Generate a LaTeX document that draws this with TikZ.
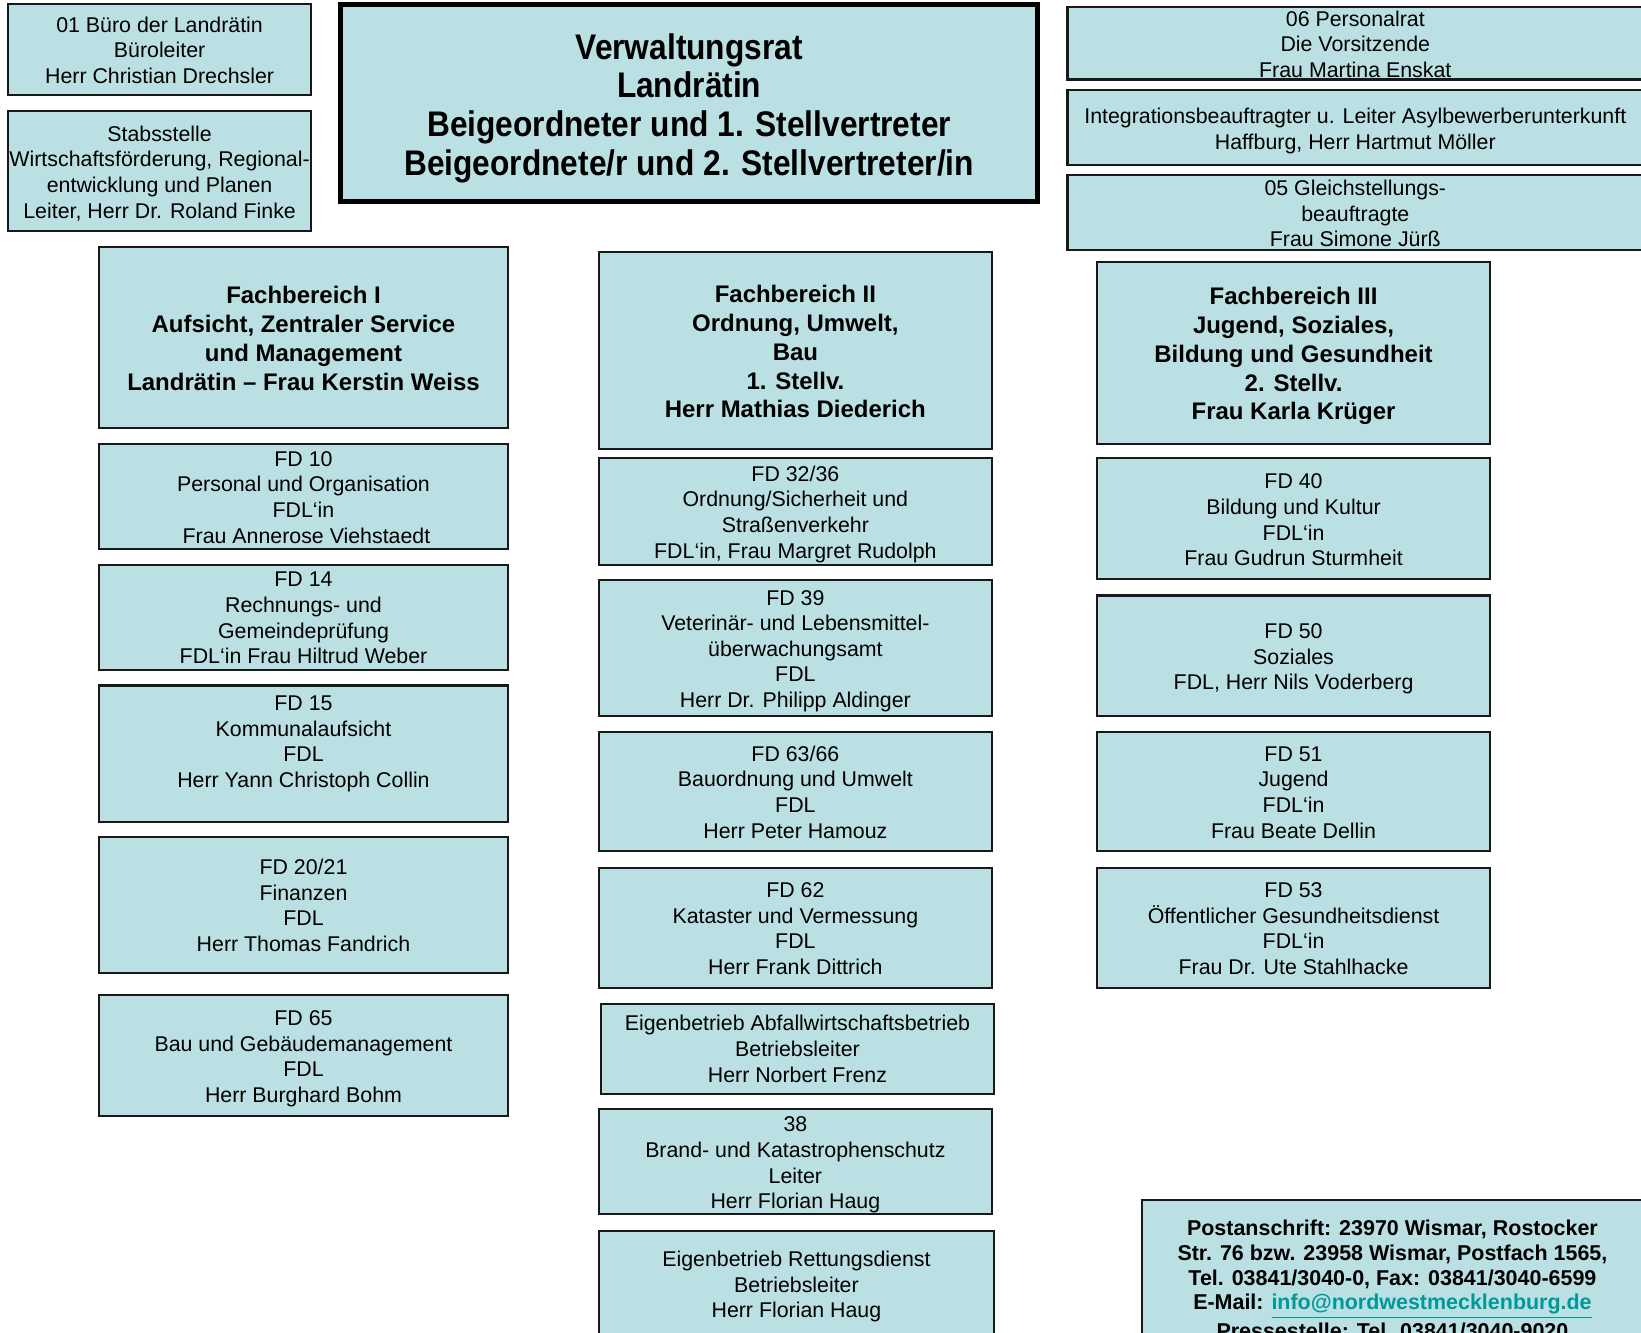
\documentclass[tikz,border=0pt]{standalone}
\usepackage{fontspec}
\setmainfont{Liberation Sans}
\newfontfamily\condsans{Liberation Sans}[FakeStretch=0.89]
\definecolor{boxfill}{RGB}{187,224,227}
\definecolor{mailcol}{RGB}{0,153,153}
\tikzset{
  boxst/.style={rectangle, draw=black!90, line width=1pt, fill=boxfill, inner sep=0pt},
  bigboxst/.style={boxst, draw=black, line width=2.5pt},
  txtst/.style={align=center, inner sep=0pt, font=\fontsize{10.2}{12.25}\selectfont},
  fbst/.style={align=center, inner sep=0pt, font=\fontsize{11.45}{13.75}\selectfont\bfseries},
  bigst/.style={align=center, inner sep=0pt, font=\condsans\fontsize{17}{18.5}\selectfont\bfseries},
  postst/.style={align=center, inner sep=0pt, font=\fontsize{10.25}{11.85}\selectfont\bfseries},
}
% [box style]{name}{x1}{y1}{x2}{y2}{text y}{text style}{text}
\newcommand\orgbox[9][boxst]{%
  \node[#1, minimum width={(#5-#3)*0.5pt}, minimum height={(#6-#4)*0.5pt}] (#2) at ({(#3+#5)/2},{-(#4+#6)/2}) {};
  \node[#8] (#2-t) at ({(#3+#5)/2},{-(#7)}) {\strut#9\strut};
}
\begin{document}
\begin{tikzpicture}[x=0.5pt,y=0.5pt]
\useasboundingbox (0,0) rectangle (1568,-1273);
\clip (0,0) rectangle (1568,-1273);

% top row
\orgbox{b01}{8}{4}{297}{91}{50.4}{txtst}{01 Büro der Landrätin\\Büroleiter\\Herr Christian Drechsler}
\orgbox{stab}{8}{106}{297}{221}{166.9}{txtst}{Stabsstelle\\Wirtschaftsförderung, Regional-\\entwicklung und Planen\\Leiter, Herr Dr. Roland Finke}
\orgbox[bigboxst]{vr}{325.5}{4.5}{991.5}{192.5}{104.6}{bigst}{Verwaltungsrat\\Landrätin\\Beigeordneter und 1. Stellvertreter\\Beigeordnete/r und 2. Stellvertreter/in}
\orgbox{pr}{1020}{7}{1570}{76}{44.7}{txtst}{06 Personalrat\\Die Vorsitzende\\Frau Martina Enskat}
\orgbox{integ}{1020}{86}{1570}{158}{125.4}{txtst}{Integrationsbeauftragter u. Leiter Asylbewerberunterkunft\\Haffburg, Herr Hartmut Möller}
\orgbox{gs}{1020}{167}{1570}{239}{206.4}{txtst}{05 Gleichstellungs-\\beauftragte\\Frau Simone Jürß}

% column I
\orgbox{fb1}{95}{236}{485}{409}{326.2}{fbst}{Fachbereich I\\Aufsicht, Zentraler Service\\und Management\\Landrätin – Frau Kerstin Weiss}
\orgbox{fd10}{95}{424}{485}{525}{477.4}{txtst}{FD 10\\Personal und Organisation\\FDL‘in\\\ Frau Annerose Viehstaedt}
\orgbox{fd14}{95}{540}{485}{640}{592.65}{txtst}{FD 14\\Rechnungs- und\\Gemeindeprüfung\\FDL‘in Frau Hiltrud Weber}
\orgbox{fd15}{95}{655}{485}{785}{710.65}{txtst}{FD 15\\Kommunalaufsicht\\FDL\\Herr Yann Christoph Collin}
\orgbox{fd20}{95}{800}{485}{930}{867.4}{txtst}{FD 20/21\\Finanzen\\FDL\\Herr Thomas Fandrich}
\orgbox{fd65}{95}{951}{485}{1066}{1011.65}{txtst}{FD 65\\Bau und Gebäudemanagement\\FDL\\Herr Burghard Bohm}

% column II
\orgbox{fb2}{572}{241}{948}{429}{338.9}{fbst}{Fachbereich II\\Ordnung, Umwelt,\\Bau\\1. Stellv.\\Herr Mathias Diederich}
\orgbox{fd32}{572}{438}{948}{540}{491.65}{txtst}{FD 32/36\\Ordnung/Sicherheit und\\Straßenverkehr\\FDL‘in, Frau Margret Rudolph}
\orgbox{fd39}{572}{554}{948}{684}{622.2}{txtst}{FD 39\\Veterinär- und Lebensmittel-\\überwachungsamt\\FDL\\Herr Dr. Philipp Aldinger}
\orgbox{fd63}{572}{699}{948}{813}{759.15}{txtst}{FD 63/66\\Bauordnung und Umwelt\\FDL\\Herr Peter Hamouz}
\orgbox{fd62}{572}{829}{948}{944}{889.4}{txtst}{FD 62\\Kataster und Vermessung\\FDL\\Herr Frank Dittrich}
\orgbox{abf}{574}{959}{950}{1045}{1004.7}{txtst}{Eigenbetrieb Abfallwirtschaftsbetrieb\\Betriebsleiter\\Herr Norbert Frenz}
\orgbox{b38}{572}{1060}{948}{1160}{1113.4}{txtst}{38\\Brand- und Katastrophenschutz\\Leiter\\Herr Florian Haug}
\orgbox{rett}{572}{1176}{950}{1290}{1229.7}{txtst}{Eigenbetrieb Rettungsdienst\\Betriebsleiter\\Herr Florian Haug}

% column III
\orgbox{fb3}{1048}{250}{1424}{424}{340.7}{fbst}{Fachbereich III\\Jugend, Soziales,\\Bildung und Gesundheit\\2. Stellv.\\Frau Karla Krüger}
\orgbox{fd40}{1048}{438}{1424}{553}{498.9}{txtst}{FD 40\\Bildung und Kultur\\FDL‘in\\Frau Gudrun Sturmheit}
\orgbox{fd50}{1048}{569}{1424}{684}{629.7}{txtst}{FD 50\\Soziales\\FDL, Herr Nils Voderberg}
\orgbox{fd51}{1048}{699}{1424}{813}{759.15}{txtst}{FD 51\\Jugend\\FDL‘in\\Frau Beate Dellin}
\orgbox{fd53}{1048}{829}{1424}{944}{889.4}{txtst}{FD 53\\Öffentlicher Gesundheitsdienst\\FDL‘in\\Frau Dr. Ute Stahlhacke}

% address box
\orgbox{post}{1091}{1147}{1570}{1300}{1224.8}{postst}{Postanschrift: 23970 Wismar, Rostocker\\Str. 76 bzw. 23958 Wismar, Postfach 1565,\\Tel. 03841/3040-0, Fax: 03841/3040-6599\\E-Mail: {\color{mailcol}\underline{info@nordwestmecklenburg.de}}\\Pressestelle: Tel. 03841/3040-9020}
\end{tikzpicture}
\end{document}
